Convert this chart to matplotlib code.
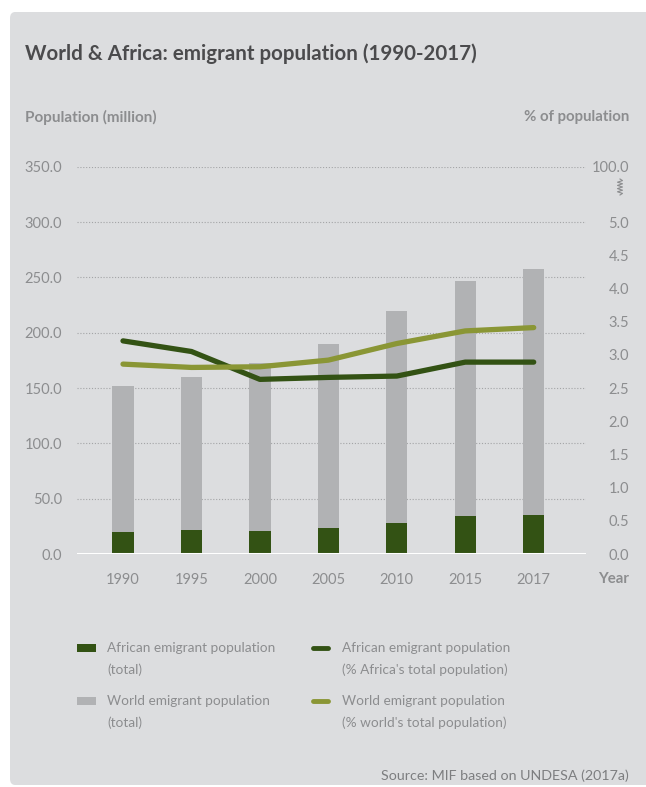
import numpy as np
import matplotlib.pyplot as plt
from matplotlib.patches import FancyBboxPatch, Rectangle
from matplotlib.lines import Line2D

plt.rcParams['font.family'] = ['Lato', 'DejaVu Sans']

# ---- data ----
years = ["1990", "1995", "2000", "2005", "2010", "2015", "2017"]
world_total = [151.8, 159.9, 172.3, 189.4, 219.5, 246.9, 257.5]      # million
africa_total = [19.9, 21.7, 20.8, 23.8, 28.0, 34.6, 35.2]            # million
africa_pct = [3.21, 3.05, 2.63, 2.66, 2.68, 2.89, 2.89]              # % Africa pop
world_pct = [2.86, 2.81, 2.82, 2.92, 3.17, 3.36, 3.41]               # % world pop

left_ticks = [0, 50, 100, 150, 200, 250, 300, 350]
right_ticks = [0.0, 0.5, 1.0, 1.5, 2.0, 2.5, 3.0, 3.5, 4.0, 4.5, 5.0]
right_top_label = "100.0"   # broken axis: top tick stands for 100 %

# ---- style ----
BG = "#dcdddf"
GREY_BAR = "#b1b2b4"
DARK_GREEN = "#335214"
OLIVE = "#8a9635"
TXT = "#8c8d8f"
TITLE = "#4b4b4d"

W, H = 646, 787
fig = plt.figure(figsize=(W / 100, H / 100), dpi=100)
fig.patch.set_facecolor("white")

def fx(px):
    return px / W

def fy(py):
    return 1 - py / H

# panel
panel = FancyBboxPatch((fx(10), fy(785)), fx(646) - fx(10) + 0.02, fy(12) - fy(785),
                       boxstyle="round,pad=0,rounding_size=0.008",
                       transform=fig.transFigure, facecolor=BG, edgecolor="none", zorder=0)
fig.add_artist(panel)

ax = fig.add_axes([fx(77), fy(554), fx(586) - fx(77), fy(166.7) - fy(554)])
ax.set_facecolor("none")
x = np.arange(len(years))
bw = 0.31
ax.bar(x, world_total, width=bw, color=GREY_BAR, zorder=2)
ax.bar(x, africa_total, width=bw, color=DARK_GREEN, zorder=3)
ax.set_xlim(-0.672, 6.764)
ax.set_ylim(0, 350)
ax.set_yticks(left_ticks)
ax.set_yticklabels([f"{v:.1f}" for v in left_ticks])
for v in left_ticks[1:]:
    ax.axhline(v, color="#a3a4a6", lw=0.8, ls=(0, (1, 1.6)), zorder=1)
ax.axhline(0, color="white", lw=2.2, zorder=4)
ax.set_xticks(x)
ax.set_xticklabels(years)
for s in ax.spines.values():
    s.set_visible(False)
ax.tick_params(axis="y", length=0, pad=10.8, labelsize=10.5, labelcolor=TXT)
ax.tick_params(axis="x", length=0, pad=14, labelsize=10.5, labelcolor=TXT)

ax2 = ax.twinx()
ax2.set_ylim(0, 350 / 60)
ax2.plot(x, africa_pct, color=DARK_GREEN, lw=3.8, solid_capstyle="round",
         solid_joinstyle="round", zorder=5)
ax2.plot(x, world_pct, color=OLIVE, lw=3.8, solid_capstyle="round",
         solid_joinstyle="round", zorder=6)
ax2.set_yticks(right_ticks + [350 / 60])
ax2.set_yticklabels([f"{v:.1f}" for v in right_ticks] + [right_top_label], ha="right")
for s in ax2.spines.values():
    s.set_visible(False)
ax2.tick_params(axis="y", length=0, pad=31, labelsize=10.5, labelcolor=TXT)

# axis break mark on the right scale
zz_y = np.linspace(179, 195, 11)
zz_x = 620 + np.array([0, 2.5, -2.5, 2.5, -2.5, 2.5, -2.5, 2.5, -2.5, 2.5, 0])
fig.add_artist(Line2D([fx(v) for v in zz_x], [fy(v) for v in zz_y],
                      transform=fig.transFigure, color=TXT, lw=0.8))

# texts
fig.text(fx(25), fy(54), "World & Africa: emigrant population (1990-2017)",
         fontsize=14.8, fontweight="bold", color=TITLE, va="center", ha="left")
fig.text(fx(25), fy(117), "Population (million)", fontsize=11, fontweight="bold",
         color=TXT, va="center", ha="left")
fig.text(fx(629), fy(117), "% of population", fontsize=10.8, fontweight="bold",
         color=TXT, va="center", ha="right")
fig.text(fx(629), fy(579), "Year", fontsize=10.8, fontweight="bold",
         color=TXT, va="center", ha="right")

# legend
leg_items = [
    ("bar", DARK_GREEN, 77, 648, "African emigrant population\n(total)"),
    ("bar", GREY_BAR, 77, 701, "World emigrant population\n(total)"),
    ("line", DARK_GREEN, 312, 648, "African emigrant population\n(% Africa's total population)"),
    ("line", OLIVE, 312, 701, "World emigrant population\n(% world's total population)"),
]
for kind, col, lx, ly, label in leg_items:
    if kind == "bar":
        fig.add_artist(Rectangle((fx(lx), fy(ly + 4)), fx(19), fy(ly - 4) - fy(ly + 4),
                                 transform=fig.transFigure, facecolor=col, edgecolor="none"))
    else:
        fig.add_artist(Line2D([fx(lx + 1), fx(lx + 16)], [fy(ly), fy(ly)],
                              transform=fig.transFigure, color=col, lw=3.5,
                              solid_capstyle="round"))
    fig.text(fx(lx + 30), fy(ly - 6), label, fontsize=9.8, color=TXT,
             va="top", ha="left", linespacing=1.85)

fig.text(fx(629), fy(776), "Source: MIF based on UNDESA (2017a)", fontsize=10.3,
         color="#7d7e80", va="center", ha="right")

fig.savefig("out.png", dpi=100, facecolor=fig.get_facecolor())
